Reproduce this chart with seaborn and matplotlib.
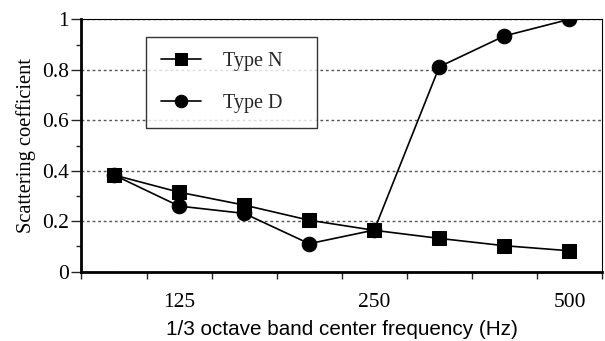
import numpy as np
import pandas as pd
import seaborn as sns
import matplotlib
matplotlib.use("Agg")
import matplotlib.pyplot as plt
from matplotlib.ticker import FixedLocator, NullFormatter

# ---- data ----
bands = ["100", "125", "160", "200", "250", "315", "400", "500"]
type_n = [0.383, 0.315, 0.264, 0.204, 0.164, 0.132, 0.103, 0.083]
type_d = [0.383, 0.260, 0.231, 0.111, 0.165, 0.812, 0.934, 1.000]
shown_labels = ["125", "250", "500"]
series_names = ["Type N", "Type D"]
y_major = [0, 0.2, 0.4, 0.6, 0.8, 1.0]
y_major_labels = ["0", "0.2", "0.4", "0.6", "0.8", "1"]
y_minor = [0.1, 0.3, 0.5, 0.7, 0.9]

sns.set_theme(style="white")
plt.rcParams["font.family"] = ["Liberation Serif", "DejaVu Serif"]

pos = np.arange(len(bands))
df_n = pd.DataFrame({"pos": pos, "value": type_n})
df_d = pd.DataFrame({"pos": pos, "value": type_d})

fig = plt.figure(figsize=(6.05, 3.41), dpi=100)
ax = fig.add_axes([0.1347, 0.2032, 0.8603, 0.7402])

ax.set_axisbelow(True)

sns.lineplot(data=df_d, x="pos", y="value", ax=ax, color="black", marker="o",
             markersize=10.5, markeredgecolor="black", linewidth=1.2, label=series_names[1])
sns.lineplot(data=df_n, x="pos", y="value", ax=ax, color="black", marker="s",
             markersize=10, markeredgecolor="black", linewidth=1.2, label=series_names[0])

ax.set_xlim(-0.5, len(bands) - 0.5)
ax.set_ylim(0, 1)

# x ticks: boundaries as tick marks, labels at selected band centers
label_pos = [bands.index(l) for l in shown_labels]
ax.xaxis.set_major_locator(FixedLocator(label_pos))
ax.set_xticklabels(shown_labels)
ax.xaxis.set_minor_locator(FixedLocator(np.arange(-0.5, len(bands), 1.0)))
ax.xaxis.set_minor_formatter(NullFormatter())
ax.tick_params(axis="x", which="major", length=0, pad=15, labelsize=15.5)
ax.tick_params(axis="x", which="minor", length=5, width=1, direction="out", bottom=True)

# y ticks
ax.yaxis.set_major_locator(FixedLocator(y_major))
ax.set_yticklabels(y_major_labels)
ax.yaxis.set_minor_locator(FixedLocator(y_minor))
ax.tick_params(axis="y", which="major", length=7, width=1, direction="out", left=True, labelsize=15.5, pad=2)
ax.tick_params(axis="y", which="minor", length=3.5, width=1, direction="out", left=True)
for t in ax.get_yticklabels() + ax.get_xticklabels():
    t.set_color("black")

ax.yaxis.grid(True, which="major", color="#555555", linestyle=(0, (2, 2)), linewidth=1.0)

# spines
for s in ["left", "bottom"]:
    ax.spines[s].set_linewidth(2)
    ax.spines[s].set_color("black")
for s in ["right", "top"]:
    ax.spines[s].set_linewidth(0.8)
    ax.spines[s].set_color("black")
ax.spines["top"].set_visible(True)
ax.spines["right"].set_visible(True)

ax.set_ylabel("Scattering coefficient", fontsize=14.8, color="black", labelpad=4)
ax.set_xlabel("1/3 octave band center frequency (Hz)", fontsize=14.9,
              family=["Liberation Sans", "DejaVu Sans"], color="black", labelpad=6)

handles, labels = ax.get_legend_handles_labels()
order = [labels.index(n) for n in series_names]
leg = ax.legend([handles[i] for i in order], [labels[i] for i in order],
                loc="upper left", bbox_to_anchor=(0.123, 0.570, 0.330, 0.361),
                mode="expand", frameon=True,
                fancybox=False, edgecolor="black", fontsize=14.5, handlelength=2.0,
                handletextpad=1.1, borderpad=0.75, labelspacing=1.15, borderaxespad=0)
leg.get_frame().set_linewidth(1.0)
for h in leg.legend_handles:
    h.set_markersize(9)

fig.savefig("out.png", dpi=100)
